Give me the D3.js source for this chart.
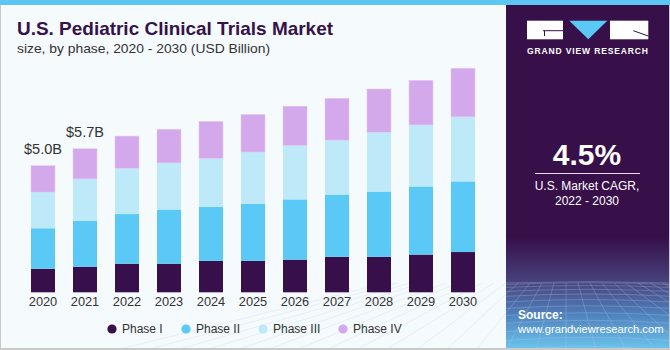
<!DOCTYPE html>
<html>
<head>
<meta charset="utf-8">
<script src="https://cdn.jsdelivr.net/npm/d3@7"></script>
<style>
  html, body { margin: 0; padding: 0; background: #fff; }
  svg { display: block; font-family: "Liberation Sans", Arial, sans-serif; }
</style>
</head>
<body>
<svg id="chart" width="670" height="350"></svg>
<script>
const years = ["2020","2021","2022","2023","2024","2025","2026","2027","2028","2029","2030"];
const phaseNames = ["Phase I","Phase II","Phase III","Phase IV"];
const phase1 = [0.93, 1.01, 1.13, 1.13, 1.24, 1.24, 1.29, 1.40, 1.40, 1.49, 1.59];
const phase2 = [1.60, 1.82, 1.96, 2.14, 2.13, 2.25, 2.38, 2.46, 2.58, 2.69, 2.79];
const phase3 = [1.43, 1.65, 1.81, 1.84, 1.92, 2.05, 2.13, 2.15, 2.34, 2.43, 2.55];
const phase4 = [1.04, 1.19, 1.27, 1.33, 1.46, 1.48, 1.55, 1.65, 1.71, 1.76, 1.92];
const valueLabels = [{year: "2020", text: "$5.0B"}, {year: "2021", text: "$5.7B"}];
const colors = ["#370f4a", "#5bc9f6", "#bde9f9", "#d4a9ec"];

const svg = d3.select("#chart");
const W = 670, H = 350;

svg.append("rect").attr("x", 0).attr("y", 0).attr("width", W).attr("height", H).attr("fill", "#f5fafd");

// right panel
const defs = svg.append("defs");
const grad = defs.append("linearGradient").attr("id", "panelGrad").attr("x1", 0).attr("y1", 0).attr("x2", 0).attr("y2", 1);
grad.append("stop").attr("offset", "0%").attr("stop-color", "#37104a");
grad.append("stop").attr("offset", "68%").attr("stop-color", "#37104a");
grad.append("stop").attr("offset", "80%").attr("stop-color", "#47407a");
grad.append("stop").attr("offset", "90%").attr("stop-color", "#4f82bd");
grad.append("stop").attr("offset", "100%").attr("stop-color", "#6cc6ee");
const px0 = 506;
svg.append("rect").attr("x", px0).attr("y", 0).attr("width", W - px0).attr("height", H).attr("fill", "url(#panelGrad)");

// mesh grid on bottom of panel
const mesh = svg.append("g").attr("stroke", "#c2d0f0").attr("stroke-width", 0.6).attr("fill", "none").attr("opacity", 0.45);
const horizonY = 283;
for (let i = 0; i < 12; i++) {
  const t = i / 11;
  const yy = horizonY + Math.pow(t, 1.6) * (H - horizonY);
  mesh.append("path").attr("d", `M${px0},${yy} Q${(px0 + W) / 2},${yy - 3 - t * 4} ${W},${yy}`);
}
for (let i = -10; i <= 24; i++) {
  const xt = px0 + i * 12;
  const xb = px0 + (i - 7) * 30 + 120;
  mesh.append("line").attr("x1", xt).attr("y1", horizonY).attr("x2", xb).attr("y2", H);
}

// border
svg.append("rect").attr("x", 0.5).attr("y", 0.5).attr("width", W - 1).attr("height", H - 1.5)
  .attr("fill", "none").attr("stroke", "#c9c9c9").attr("stroke-width", 1);
svg.append("line").attr("x1", 0).attr("x2", W).attr("y1", 349).attr("y2", 349).attr("stroke", "#c9c9c9").attr("stroke-width", 2);
// top strip
svg.append("rect").attr("x", 0).attr("y", 0).attr("width", W).attr("height", 5).attr("fill", "#5cc6f2");

// title
svg.append("text").attr("x", 17).attr("y", 35).text("U.S. Pediatric Clinical Trials Market")
  .attr("font-size", 19).attr("font-weight", "bold").attr("fill", "#36124a")
  .attr("textLength", 316).attr("lengthAdjust", "spacingAndGlyphs");
svg.append("text").attr("x", 17).attr("y", 53).text("size, by phase, 2020 - 2030 (USD Billion)")
  .attr("font-size", 13).attr("fill", "#333")
  .attr("textLength", 253).attr("lengthAdjust", "spacingAndGlyphs");

// scales
const x = d3.scaleBand().domain(years).range([22, 484]).paddingInner(18 / 42).paddingOuter(9 / 42);
const y = d3.scaleLinear().domain([0, 10]).range([292.3, 292.3 - 253.2]);

const series = [phase1, phase2, phase3, phase4];
const rows = years.map((yr, i) => {
  const o = {year: yr};
  phaseNames.forEach((p, k) => o[p] = series[k][i]);
  return o;
});
const stacked = d3.stack().keys(phaseNames)(rows);

const gBars = svg.append("g");
stacked.forEach((layer, k) => {
  gBars.append("g").attr("fill", colors[k])
    .selectAll("rect").data(layer).join("rect")
    .attr("x", d => x(d.data.year))
    .attr("width", x.bandwidth())
    .attr("y", d => y(d[1]))
    .attr("height", d => y(d[0]) - y(d[1]))
    .attr("stroke", k === 3 ? "#e4c8f4" : "none").attr("stroke-width", k === 3 ? 0.5 : 0);
});

// value labels
valueLabels.forEach(v => {
  const i = years.indexOf(v.year);
  const tot = phase1[i] + phase2[i] + phase3[i] + phase4[i];
  svg.append("text").attr("x", x(v.year) + x.bandwidth() / 2).attr("y", y(tot) - 12)
    .attr("text-anchor", "middle").attr("font-size", 14.5).attr("fill", "#333").text(v.text);
});

// x axis
const xAxis = svg.append("g").attr("transform", `translate(0,${292.3})`)
  .call(d3.axisBottom(x).tickSize(0).tickPadding(5));
xAxis.select(".domain").remove();
xAxis.selectAll("text").attr("font-size", 12.8).attr("fill", "#333").attr("font-family", "Liberation Sans, Arial, sans-serif");

// legend
const legendX = [112, 186, 263, 343];
const leg = svg.append("g");
phaseNames.forEach((p, k) => {
  leg.append("circle").attr("cx", legendX[k]).attr("cy", 329).attr("r", 4.6).attr("fill", colors[k]);
  leg.append("text").attr("x", legendX[k] + 10).attr("y", 333).attr("font-size", 12).attr("fill", "#333").text(p);
});

// logo
const logo = svg.append("g");
logo.append("rect").attr("x", 527).attr("y", 20.7).attr("width", 36).attr("height", 18.6).attr("fill", "#fff");
logo.append("path").attr("d", "M543,30.7 L563,30.7 M544.5,30.7 L544.5,36").attr("stroke", "#37104a").attr("stroke-width", 1).attr("fill", "none");
logo.append("path").attr("d", "M569.3,20.7 L607.3,20.7 L588.3,39.3 Z").attr("fill", "#5bc9f6");
logo.append("rect").attr("x", 610).attr("y", 20.7).attr("width", 38.3).attr("height", 18.6).attr("fill", "#fff");
logo.append("path").attr("d", "M633.3,30.7 L648.3,36").attr("stroke", "#37104a").attr("stroke-width", 1);
svg.append("text").attr("x", 527).attr("y", 54).text("GRAND VIEW RESEARCH")
  .attr("font-size", 8.5).attr("font-weight", "bold").attr("fill", "#fff")
  .attr("textLength", 121).attr("lengthAdjust", "spacing");

// CAGR
svg.append("text").attr("x", 587).attr("y", 165).attr("text-anchor", "middle")
  .attr("font-size", 30).attr("font-weight", "bold").attr("fill", "#fff").text("4.5%");
svg.append("line").attr("x1", 535).attr("x2", 640).attr("y1", 173.5).attr("y2", 173.5).attr("stroke", "#e8e0ee").attr("stroke-width", 1);
svg.append("text").attr("x", 587).attr("y", 190).attr("text-anchor", "middle")
  .attr("font-size", 12).attr("fill", "#fff").text("U.S. Market CAGR,");
svg.append("text").attr("x", 587).attr("y", 204.5).attr("text-anchor", "middle")
  .attr("font-size", 12).attr("fill", "#fff").text("2022 - 2030");

// source
svg.append("text").attr("x", 518).attr("y", 319).attr("font-size", 12).attr("font-weight", "bold").attr("fill", "#fff").text("Source:");
svg.append("text").attr("x", 518).attr("y", 332.5).attr("font-size", 11.2).attr("fill", "#fff").text("www.grandviewresearch.com");
</script>
</body>
</html>
